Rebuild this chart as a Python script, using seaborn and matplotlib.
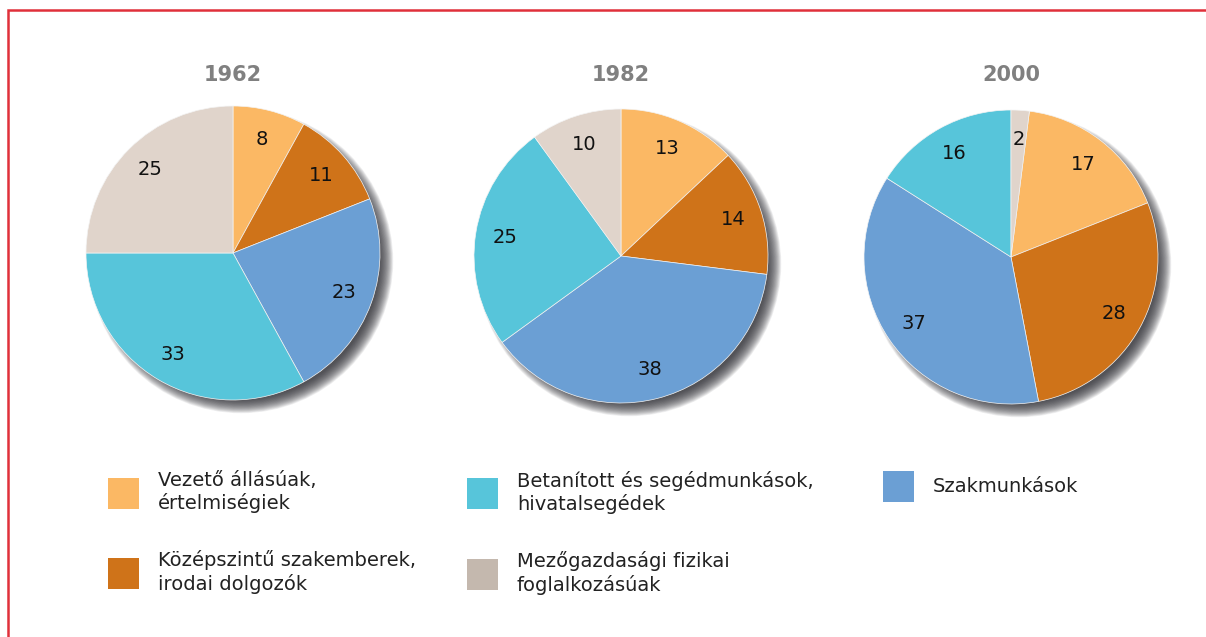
import numpy as np
import pandas as pd
import seaborn as sns
import matplotlib.pyplot as plt
from matplotlib.patches import Circle, Patch, Rectangle

groups = ['Vezető állásúak,\nértelmiségiek',
          'Középszintű szakemberek,\nirodai dolgozók',
          'Szakmunkások',
          'Betanított és segédmunkások,\nhivatalsegédek',
          'Mezőgazdasági fizikai\nfoglalkozásúak']
years = ['1962', '1982', '2000']
v1962 = [8, 11, 23, 33, 25]
v1982 = [13, 14, 38, 25, 10]
v2000 = [17, 28, 37, 16, 2]

colors = ['#fbb864', '#cf7319', '#6b9fd4', '#57c5da', '#e0d4cb']
legend_colors = ['#fbb864', '#cf7319', '#6b9fd4', '#57c5da', '#c4b8ae']

sns.set_style('white')
plt.rcParams['font.family'] = ['DejaVu Sans']

W, H = 1206, 637
fig = plt.figure(figsize=(W / 100, H / 100), dpi=100)

R = 147
centers = [(233, 253), (621, 256), (1011, 257)]
data = {'1962': v1962, '1982': v1982, '2000': v2000}
# 2000: the beige slice sits first at the top
starts = {'1962': 90, '1982': 90, '2000': 90 - 3.6 * v2000[4]}

for year, (cx, cy) in zip(years, centers):
    half = 1.25 * R
    ax = fig.add_axes([(cx - half) / W, (H - cy - half) / H, 2 * half / W, 2 * half / H])
    # soft blurred shadow down-right
    for r in np.linspace(0.94, 1.035, 24):
        ax.add_patch(Circle((0.055, -0.055), r, color='#303036',
                            alpha=0.065, lw=0, zorder=0))
    wedges, texts, autotexts = ax.pie(
        data[year], colors=colors, startangle=starts[year], counterclock=False,
        autopct=lambda p: f'{round(p)}', pctdistance=0.8,
        wedgeprops=dict(edgecolor='#f4f4f4', linewidth=0.5),
        textprops=dict(fontsize=14, color='#111111'))
    for w in wedges:
        w.set_zorder(2)
    for t in autotexts:
        t.set_zorder(3)
    ax.set_xlim(-1.25, 1.25)
    ax.set_ylim(-1.25, 1.25)
    ax.set_aspect('equal')
    ax.axis('off')
    fig.text(cx / W, (H - 75) / H, year, ha='center', va='center',
             fontsize=15, fontweight='bold', color='#808080')

handles = [Patch(facecolor=c, edgecolor='none') for c in legend_colors]
legend_cols = [([0, 1], 100), ([3, 4], 459), ([2], 875)]
for idx, x0 in legend_cols:
    leg = fig.legend([handles[i] for i in idx], [groups[i] for i in idx],
                     loc='upper left', bbox_to_anchor=(x0 / W, (H - 463) / H),
                     frameon=False, fontsize=14, handlelength=1.6, handleheight=2.08,
                     handletextpad=0.98, labelspacing=1.92, borderaxespad=0)
    for t in leg.get_texts():
        t.set_color('#222222')

# red frame, open to the right and bottom
fig.add_artist(Rectangle((8 / W, -0.1), 1.2, (H - 10) / H + 0.1, transform=fig.transFigure,
                         fill=False, edgecolor='#e0303a', linewidth=1.8))

fig.savefig('out.png', dpi=100)
